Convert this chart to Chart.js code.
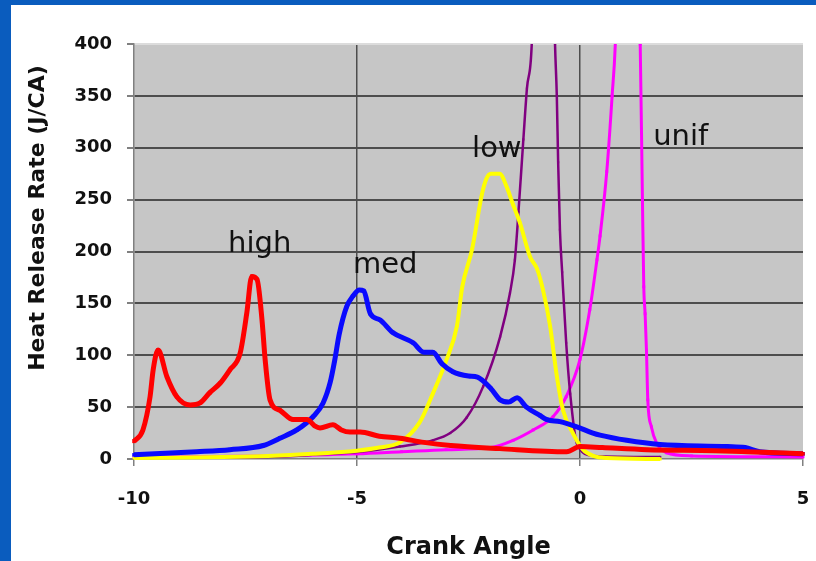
<!DOCTYPE html>
<html>
<head>
<meta charset="utf-8">
<script src="https://cdn.jsdelivr.net/npm/chart.js@4"></script>
<style>
    body { margin: 0; background: #0a5cbe; width: 816px; height: 561px; overflow: hidden; }
    #wrap { position: absolute; left: 11px; top: 5px; width: 805px; height: 556px; background: #fff; }
</style>
</head>
<body>
<div id="wrap"><canvas id="hrrChart"></canvas></div>
<script>
// data (crank angle, heat release rate J/CA)
const redX = [-10, -9.8, -9.64, -9.57, -9.46, -9.26, -9.04, -8.74, -8.52, -8.3, -8.07, -7.85, -7.62, -7.47, -7.36, -7.24, -7.13, -7.06, -6.95, -6.73, -6.43, -6.12, -5.95, -5.83, -5.54, -5.35, -5.16, -4.93, -4.5, -4.04, -3.5, -2.9, -1.8, -0.3, 0, 0.5, 1.5, 3.0, 3.74, 5];
const redY = [17, 28, 60, 86, 105, 79, 60, 52, 54, 64, 73, 86, 102, 141, 176, 173, 134, 96, 57, 47, 38, 38, 32, 30, 33, 28, 26, 26, 22, 20, 16, 13, 10, 7, 12, 11, 9, 8, 7, 5];

const blueX = [-10, -8.6, -7.85, -7.1, -6.73, -6.35, -5.98, -5.76, -5.6, -5.5, -5.4, -5.23, -5.09, -4.95, -4.85, -4.7, -4.48, -4.2, -3.74, -3.5, -3.3, -3.1, -2.85, -2.5, -2.3, -2.0, -1.79, -1.6, -1.41, -1.2, -0.9, -0.74, -0.45, -0.07, 0.29, 0.45, 1.05, 1.79, 3.3, 3.7, 4.03, 5];
const blueY = [4, 7, 9, 13, 20, 28, 41, 54, 74, 95, 120, 147, 157, 163, 162, 140, 134, 122, 112, 103, 103, 92, 84, 80, 79, 68, 57, 55, 59, 50, 42, 38, 36, 31, 25, 23, 18, 14, 12, 11, 7, 5];

const yellowX = [-10, -8, -7, -6, -5, -4.5, -4.04, -3.6, -3.3, -2.99, -2.76, -2.64, -2.42, -2.2, -2.1, -2.0, -1.8, -1.65, -1.5, -1.35, -1.12, -0.96, -0.83, -0.67, -0.52, -0.38, -0.16, 0.07, 0.3, 0.6, 1.8];
const yellowY = [1, 2, 3, 5, 8, 11, 16, 35, 63, 96, 128, 166, 202, 255, 270, 275, 275, 263, 245, 228, 195, 183, 163, 128, 80, 47, 25, 9, 3, 1, 0];

const purpleX = [-10, -7, -6, -4.93, -4.04, -3.3, -2.91, -2.54, -2.17, -1.79, -1.57, -1.46, -1.38, -1.27, -1.19, -1.08, -0.8, -0.56, -0.52, -0.49, -0.45, -0.4, -0.31, -0.22, -0.07, 0.3, 1.8];
const purpleY = [1, 2, 4, 7, 12, 18, 25, 40, 70, 118, 160, 192, 238, 308, 357, 402, 900, 400, 350, 286, 221, 180, 112, 63, 15, 3, 2];

const magentaX = [-10, -7, -5, -4, -3, -2, -1.5, -1.05, -0.6, -0.31, 0, 0.22, 0.38, 0.45, 0.6, 0.72, 0.8, 1.05, 1.35, 1.4, 1.43, 1.46, 1.49, 1.52, 1.6, 1.72, 1.94, 2.5, 5];
const magentaY = [2, 3, 5, 7, 9, 11, 18, 28, 41, 60, 96, 144, 192, 215, 277, 350, 410, 900, 400, 250, 166, 140, 105, 57, 31, 15, 6, 3, 2];

const xTicks = [-10, -5, 0, 5];
const yMax = 400;

// curve labels, placed in data units (left edge, baseline)
const labelText = ['high', 'med', 'low', 'unif'];
const labelX = [-7.89, -5.09, -2.42, 1.64];
const labelY = [199.5, 179, 291, 303];

const toPoints = (xs, ys) => xs.map((x, i) => ({ x: x, y: ys[i] }));

function makeSet(name, xs, ys, color, width, radius) {
    return {
        label: name,
        data: toPoints(xs, ys),
        borderColor: color,
        backgroundColor: color,
        borderWidth: width,
        pointRadius: radius,
        pointStyle: 'rect',
        pointBorderWidth: 0,
        cubicInterpolationMode: 'monotone',
        clip: { left: 2, top: 0, right: 2, bottom: 4 }
    };
}

// gray plot background + text drawn on the canvas
const plotDecor = {
    id: 'plotDecor',
    beforeDraw(chart) {
        const a = chart.chartArea;
        const ctx = chart.ctx;
        ctx.save();
        ctx.fillStyle = '#c6c6c6';
        ctx.fillRect(a.left, a.top, a.right - a.left, a.bottom - a.top);
        ctx.restore();
    },
    afterDraw(chart) {
        const ctx = chart.ctx;
        const xs = chart.scales.x;
        const ys = chart.scales.y;
        ctx.save();
        ctx.fillStyle = '#111';
        ctx.font = '29px "DejaVu Sans"';
        ctx.textAlign = 'left';
        ctx.textBaseline = 'alphabetic';
        labelText.forEach((t, i) => {
            ctx.fillText(t, xs.getPixelForValue(labelX[i]), ys.getPixelForValue(labelY[i]));
        });
        // y axis title (sits above the centre of the axis in the original)
        ctx.translate(27, 213);
        ctx.rotate(-Math.PI / 2);
        ctx.textAlign = 'center';
        ctx.textBaseline = 'middle';
        ctx.font = 'bold 22px "DejaVu Sans"';
        ctx.fillText('Heat Release Rate (J/CA)', 0, 0);
        ctx.restore();
    }
};

new Chart(document.getElementById('hrrChart'), {
    type: 'line',
    data: {
        datasets: [
            makeSet('high', redX, redY, '#ff0000', 5, 2.5),
            makeSet('med', blueX, blueY, '#0a0aff', 5, 2.5),
            makeSet('low', yellowX, yellowY, '#ffff00', 4, 2),
            makeSet('purple', purpleX, purpleY, '#800080', 2.5, 1.5),
            makeSet('unif', magentaX, magentaY, '#ff00ff', 3, 2)
        ]
    },
    options: {
        responsive: true,
        maintainAspectRatio: false,
        animation: false,
        layout: { padding: { top: 39, right: 13, left: 0, bottom: 0 } },
        plugins: { legend: { display: false }, tooltip: { enabled: false } },
        scales: {
            x: {
                type: 'linear',
                min: xTicks[0],
                max: xTicks[xTicks.length - 1],
                afterFit(s) { s.height = 102; s.paddingLeft = 0; s.paddingRight = 0; },
                afterBuildTicks(s) { s.ticks = xTicks.map(v => ({ value: v })); },
                ticks: {
                    padding: 23,
                    color: '#111',
                    font: { family: 'DejaVu Sans', size: 18, weight: 'bold' },
                    maxRotation: 0
                },
                grid: {
                    color: c => (c.tick && (c.tick.value === -5 || c.tick.value === 0)) ? '#4d4d4d' : 'rgba(0,0,0,0)',
                    lineWidth: 1.5,
                    tickColor: '#808080',
                    tickLength: 7
                },
                border: { color: '#808080', width: 1.5 },
                title: {
                    display: true,
                    text: 'Crank Angle',
                    color: '#111',
                    font: { family: 'DejaVu Sans', size: 24, weight: 'bold', lineHeight: 1 },
                    padding: { top: 0, bottom: 1 }
                }
            },
            y: {
                min: 0,
                max: yMax,
                afterFit(s) { s.width = 123; s.paddingTop = 0; s.paddingBottom = 0; },
                ticks: {
                    stepSize: 50,
                    padding: 15,
                    color: '#111',
                    font: { family: 'DejaVu Sans', size: 18, weight: 'bold' }
                },
                grid: {
                    color: c => {
                        if (!c.tick) return '#4d4d4d';
                        if (c.tick.value === yMax) return '#dcdcdc';
                        if (c.tick.value === 0) return 'rgba(0,0,0,0)';
                        return '#4d4d4d';
                    },
                    lineWidth: 2,
                    tickColor: '#808080',
                    tickLength: 7
                },
                border: { color: '#808080', width: 1.5 }
            }
        }
    },
    plugins: [plotDecor]
});
</script>
</body>
</html>
